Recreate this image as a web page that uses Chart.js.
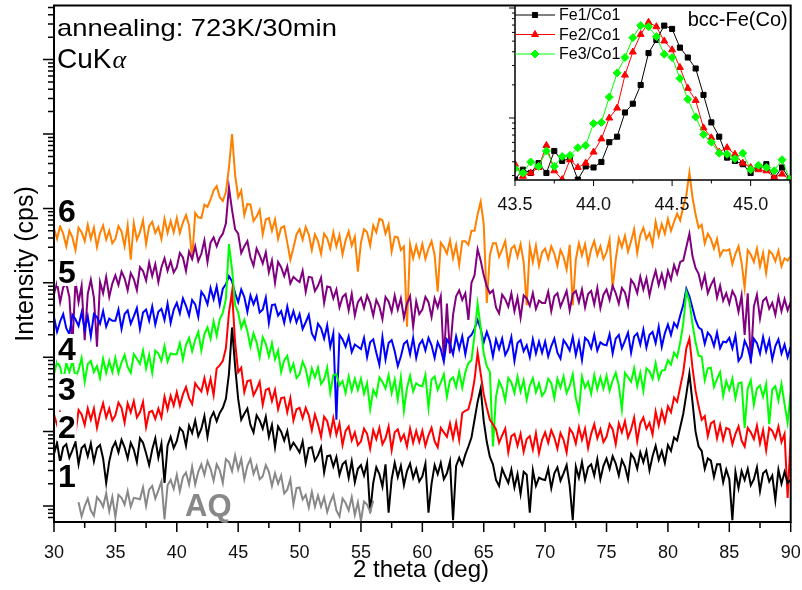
<!DOCTYPE html>
<html>
<head>
<meta charset="utf-8">
<script src="https://cdn.jsdelivr.net/npm/chart.js@4.4.1/dist/chart.umd.min.js"></script>
<style>
  html, body { margin: 0; padding: 0; background: #fff; }
  #wrap { position: relative; width: 802px; height: 590px; }
  #xrd { position: absolute; left: 0; top: 0; }
  #inset { position: absolute; left: 460px; top: 0; }
</style>
</head>
<body>
<div id="wrap">
  <canvas id="xrd" width="802" height="590"></canvas>
  <canvas id="inset" width="342" height="215"></canvas>
</div>
<script>
// scans: log10(counts), 2theta from scanStart in scanStep steps
const scanStart = 30;
const scanStep = 0.25;

const lgS6 = [
  4.73,4.59,4.76,4.66,4.49,4.70,4.61,4.44,4.74,4.68,4.56,4.78,4.59,4.74,4.48,4.67,4.77,4.58,4.70,4.53,
  4.59,4.76,4.69,4.49,4.77,4.31,4.80,4.58,4.68,4.84,4.52,4.76,4.82,4.67,4.75,4.59,4.86,4.67,4.83,4.68,
  4.87,4.67,4.81,4.91,4.77,4.31,4.94,4.88,4.87,5.05,5.02,5.12,5.24,5.30,5.15,5.10,5.22,5.55,6.00,5.45,
  5.15,5.24,4.91,5.06,5.05,4.83,4.89,4.98,4.65,4.85,4.87,4.70,4.85,4.59,4.74,4.76,4.54,4.31,4.47,4.65,
  4.72,4.58,4.75,4.65,4.44,4.65,4.56,4.39,4.66,4.60,4.46,4.68,4.49,4.64,4.38,4.57,4.69,4.50,4.62,4.15,
  4.54,4.72,4.68,4.50,4.77,4.68,4.86,4.84,4.66,4.78,4.42,4.62,4.61,4.44,4.49,3.41,4.52,4.33,4.50,4.35,
  4.52,4.32,4.46,4.56,4.37,3.88,4.54,4.48,4.39,4.57,4.33,4.51,4.24,4.56,4.56,4.51,4.70,4.70,4.92,5.09,
  4.79,3.73,4.37,4.53,4.53,4.35,4.45,4.56,4.24,4.46,4.50,4.35,4.52,4.28,3.70,4.49,4.28,4.50,4.23,4.41,
  4.46,4.32,4.49,4.39,4.23,4.44,4.35,4.18,4.51,3.70,4.31,4.53,4.37,4.52,4.26,4.45,4.56,4.37,4.49,4.32,
  4.41,4.58,3.93,4.31,4.60,4.48,4.63,4.42,4.56,4.72,4.40,4.64,4.74,4.59,4.67,4.51,4.82,4.63,4.79,4.66,
  4.86,4.70,4.82,4.93,4.84,5.02,5.18,5.48,5.15,4.92,4.74,4.78,4.53,4.66,4.59,4.46,4.59,4.36,4.44,4.43,
  4.45,4.25,4.39,4.49,4.27,3.93,4.44,4.38,4.28,4.46,4.22,4.40,4.13,4.43,4.39,4.29,4.43,4.22,4.33,4.30,
  4.36
];

const lgS5 = [
  3.85,4.00,3.74,3.94,3.99,3.81,3.16,4.02,3.74,3.96,3.23,3.85,4.04,3.80,3.14,4.01,3.86,4.08,3.81,3.99,
  4.10,3.97,4.15,4.06,3.90,4.13,4.05,3.90,4.21,4.16,4.03,4.27,4.09,4.25,4.01,4.21,4.33,4.16,4.29,4.14,
  4.21,4.40,4.34,4.16,4.42,4.32,4.49,4.29,4.39,4.57,4.28,4.54,4.61,4.49,4.60,4.66,4.80,5.28,4.98,4.72,
  4.66,4.40,4.49,4.56,4.34,4.23,4.46,4.37,4.26,4.41,4.14,4.30,4.00,4.28,4.21,4.09,4.22,3.99,4.08,4.04,
  4.01,4.16,3.88,4.08,4.07,3.89,3.96,4.07,3.73,3.95,3.94,3.79,3.91,3.67,3.81,3.85,3.63,3.85,3.56,3.74,
  3.80,3.66,3.83,3.73,3.56,3.77,3.68,3.51,3.81,3.75,3.61,3.83,3.64,3.79,3.53,3.72,3.82,3.41,3.75,3.58,
  3.64,3.81,3.74,3.54,3.79,3.67,3.82,2.96,3.72,3.05,3.57,3.82,3.90,3.77,3.86,3.50,4.00,4.10,4.45,4.30,
  4.10,3.95,3.86,3.90,3.67,3.59,3.84,3.78,3.68,3.86,3.62,3.80,3.53,3.83,3.79,3.69,3.86,3.65,3.76,3.73,
  3.73,3.88,3.62,3.82,3.86,3.68,3.78,3.89,3.63,3.85,3.89,3.74,3.91,3.67,3.85,3.89,3.71,3.93,3.66,3.84,
  3.91,3.77,3.96,3.86,3.72,3.93,3.87,3.70,4.04,3.98,3.86,4.08,3.91,4.06,3.83,4.02,4.16,3.97,4.12,3.95,
  4.16,4.04,4.24,4.12,4.28,4.30,4.48,4.66,4.36,4.20,4.12,3.94,4.10,3.86,3.97,4.05,3.80,3.96,3.76,3.86,
  3.72,3.89,3.81,3.61,3.83,3.30,3.86,2.92,3.68,3.84,3.52,3.76,3.80,3.65,3.73,3.57,3.81,3.62,3.78,3.63,
  3.74
];

const lgS4 = [
  3.54,3.34,3.48,3.58,3.39,3.31,3.57,3.51,3.42,3.60,3.37,3.55,3.28,3.58,3.54,3.45,3.62,3.41,3.52,3.49,
  3.49,3.64,3.38,3.58,3.63,3.45,3.55,3.66,3.38,3.60,3.64,3.49,3.68,3.44,3.61,3.65,3.50,3.72,3.46,3.64,
  3.73,3.59,3.79,3.69,3.56,3.77,3.71,3.54,3.88,3.82,3.71,3.93,3.78,3.95,3.71,3.92,3.98,4.09,4.02,3.86,
  3.74,3.91,3.81,3.61,3.83,3.71,3.82,3.60,3.64,3.80,3.46,3.70,3.71,3.56,3.62,3.46,3.68,3.49,3.62,3.47,
  3.58,3.38,3.47,3.57,3.32,3.24,3.45,3.39,3.25,3.43,3.14,3.32,2.16,3.30,3.24,3.14,3.28,3.07,3.17,3.14,
  3.11,3.26,3.00,3.20,3.24,3.06,2.90,3.27,2.97,3.19,3.23,3.08,2.88,3.01,3.18,3.22,3.04,3.26,2.99,3.17,
  3.23,3.09,3.26,3.16,2.99,3.20,3.11,2.94,3.24,3.18,3.04,3.28,3.11,3.28,3.04,3.26,3.30,3.38,3.50,3.38,
  3.20,3.34,3.22,3.01,3.24,3.11,3.25,3.03,3.11,3.27,2.95,3.19,3.23,3.08,3.16,3.00,3.24,3.05,3.21,3.06,
  3.21,3.01,3.15,3.25,3.06,2.98,3.23,3.17,3.09,3.27,3.03,3.21,2.96,3.26,3.22,3.12,3.30,3.09,3.20,3.17,
  3.16,3.31,3.05,3.25,3.30,3.12,3.22,3.33,3.06,3.28,3.32,3.17,3.37,3.13,3.30,3.34,3.19,3.41,3.14,3.32,
  3.44,3.30,3.46,3.40,3.56,3.70,3.92,3.82,3.66,3.50,3.40,3.37,3.18,3.33,3.28,3.15,3.33,3.12,3.21,3.20,
  3.26,3.12,3.29,2.95,3.01,3.22,3.13,2.96,3.25,3.19,3.05,3.27,3.08,3.23,2.97,3.15,3.24,3.05,3.17,3.00,
  3.14
];

const lgS3 = [
  2.77,2.94,2.87,2.67,2.92,2.80,2.95,2.73,2.83,2.99,2.67,2.91,2.95,2.80,2.88,2.72,2.98,2.79,2.95,2.80,
  2.99,2.79,2.93,3.03,2.87,2.79,3.04,2.98,2.91,3.09,2.85,3.03,2.79,3.09,3.05,2.95,3.15,2.94,3.05,3.04,
  3.04,3.19,2.97,3.17,3.26,3.08,3.23,3.34,3.09,3.31,3.40,3.25,3.48,3.29,3.51,3.60,3.78,4.52,4.18,3.70,
  3.60,3.39,3.50,3.35,3.14,3.32,3.20,3.00,3.27,3.18,3.01,3.19,2.97,3.09,2.80,2.96,3.02,2.81,2.91,2.72,
  2.77,2.94,2.84,2.64,2.85,2.73,2.86,2.64,2.70,2.86,2.52,2.76,2.77,2.62,2.68,2.52,2.74,2.55,2.71,2.56,
  2.71,2.51,2.65,2.30,2.56,2.48,2.73,2.67,2.58,2.76,2.52,2.70,2.43,2.73,2.28,2.59,2.75,2.54,2.65,2.62,
  2.61,2.76,2.32,2.70,2.74,2.56,2.66,2.77,2.47,2.69,2.73,2.60,2.80,2.59,2.80,2.92,2.96,3.30,3.72,3.40,
  3.05,2.88,2.80,1.80,2.47,2.68,2.59,2.42,2.72,2.66,2.52,2.74,2.54,2.69,2.43,2.62,2.72,2.53,2.65,2.48,
  2.54,2.71,2.65,2.45,2.71,2.59,2.74,2.52,2.61,2.77,2.45,2.28,2.74,2.59,2.67,2.51,2.76,2.57,2.73,2.58,
  2.75,2.55,2.69,2.79,2.62,2.30,2.79,2.73,2.67,2.85,2.61,2.79,2.55,2.85,2.81,2.71,2.92,2.71,2.82,2.83,
  2.96,2.90,3.06,3.00,3.20,3.45,3.88,3.75,3.45,3.20,3.02,3.01,2.69,2.85,2.86,2.60,2.71,2.80,2.48,2.68,
  2.56,2.71,2.45,2.65,2.66,2.05,2.58,2.69,2.36,2.58,2.62,2.47,2.64,2.10,2.57,2.61,2.42,2.64,2.37,2.12,
  2.52
];

const lgS2 = [
  2.23,2.09,2.26,2.16,2.01,2.22,2.14,1.97,2.29,2.23,2.09,2.31,2.16,2.31,2.05,2.24,2.38,2.19,2.31,2.15,
  2.22,2.39,2.32,2.12,2.38,2.26,2.41,2.19,2.26,2.40,2.06,2.26,2.28,2.17,2.31,2.19,2.47,2.30,2.48,2.35,
  2.53,2.35,2.50,2.60,2.45,2.37,2.65,2.59,2.54,2.72,2.53,2.71,2.49,2.85,2.89,2.95,3.12,3.60,3.88,3.20,
  2.80,2.86,2.53,2.68,2.69,2.49,2.57,2.67,2.36,2.56,2.58,2.41,2.56,2.30,2.45,2.46,2.26,2.45,2.15,2.30,
  2.32,2.18,2.32,2.22,2.02,2.23,2.10,1.93,2.20,2.14,1.96,2.18,1.96,2.11,1.82,2.01,2.07,1.88,1.99,1.82,
  1.87,2.04,1.97,1.77,2.02,1.90,2.05,1.83,1.91,2.07,1.75,1.99,2.03,1.88,1.96,1.80,2.04,1.85,2.01,1.86,
  2.01,1.81,1.95,2.05,1.87,1.79,2.05,1.99,1.93,2.11,1.91,2.12,1.89,2.25,2.28,2.30,2.46,2.70,3.06,2.78,
  2.50,2.32,2.16,2.10,2.03,1.85,1.95,2.04,1.72,1.94,1.97,1.81,1.97,1.73,1.90,1.94,1.76,1.98,1.71,1.89,
  1.99,1.85,2.02,1.92,1.77,1.98,1.89,1.72,2.04,1.98,1.84,2.06,1.89,2.04,1.78,1.97,2.10,1.91,2.03,1.86,
  1.93,2.10,2.03,1.83,2.11,1.99,2.14,1.92,2.03,2.19,1.87,2.11,2.19,2.04,2.12,1.96,2.27,2.08,2.28,2.13,
  2.34,2.26,2.46,2.40,2.60,2.80,3.12,3.25,2.86,2.55,2.34,2.16,2.21,1.94,2.11,2.14,1.91,2.09,1.89,2.05,
  2.03,1.83,1.97,2.07,1.88,1.80,2.05,1.99,1.90,2.08,1.84,2.02,1.75,2.05,2.01,1.91,2.07,1.86,1.97,1.11,
  1.93
];

const lgS1 = [
  1.70,1.85,1.59,1.79,1.83,1.65,1.75,1.86,1.56,1.78,1.82,1.67,1.84,1.60,1.78,1.82,1.64,1.31,1.60,1.78,
  1.86,1.72,1.89,1.79,1.64,1.85,1.76,1.59,1.91,1.85,1.71,1.55,1.76,1.91,1.65,1.84,1.31,1.81,1.93,1.78,
  1.87,2.05,2.00,1.81,2.08,1.98,2.15,1.94,2.04,2.21,1.93,2.18,2.26,2.14,2.25,2.32,2.44,2.78,3.40,2.88,
  2.44,2.16,2.24,2.31,2.09,1.99,2.22,2.15,2.04,2.20,1.93,2.09,1.79,2.07,2.00,1.88,2.01,1.77,1.85,1.79,
  1.72,1.87,1.58,1.78,1.79,1.61,1.68,1.79,1.45,1.67,1.68,1.53,1.66,1.42,1.56,1.60,1.38,1.60,1.32,1.50,
  1.55,1.41,1.58,0.91,1.31,1.52,1.43,1.26,1.56,0.91,1.36,1.58,1.39,1.54,1.28,1.47,1.57,1.38,1.50,1.33,
  1.40,1.57,0.91,1.30,1.55,1.43,1.58,1.36,1.44,1.60,0.81,1.54,1.65,1.55,1.69,1.80,1.92,2.16,2.40,2.58,
  2.14,1.86,1.66,1.56,1.35,1.27,1.50,1.40,1.31,1.49,1.25,1.43,1.16,1.46,1.42,0.91,1.48,1.27,1.38,1.36,
  1.35,1.50,1.24,1.44,1.52,1.34,1.44,1.55,1.27,0.81,1.53,1.38,1.59,1.35,1.52,1.56,1.41,1.63,1.36,1.54,
  1.64,1.50,1.67,1.57,1.41,1.62,1.53,1.36,1.70,1.64,1.50,1.72,1.59,1.74,1.48,1.67,1.81,1.62,1.74,1.58,
  1.82,1.74,1.92,1.88,2.06,2.24,2.50,2.78,2.40,2.00,1.80,1.74,1.50,1.64,1.61,1.39,1.56,1.56,1.32,1.49,
  1.36,0.81,1.46,1.24,1.47,1.35,1.50,1.28,1.36,1.52,1.20,1.44,1.48,1.33,1.41,1.08,1.49,1.30,1.46,1.31,
  1.35
];

// as-quenched ribbon, recorded from 32 deg only
const aqStart = 32;
const lgAQ = [
  1.05,0.86,1.00,1.10,0.94,0.87,1.12,1.07,0.99,1.17,0.93,1.12,0.85,1.15,1.11,1.02,1.20,0.99,1.11,1.10,
  1.09,1.25,1.00,1.22,1.27,1.10,1.21,1.33,0.82,1.28,1.35,1.23,1.42,1.20,1.39,1.45,1.29,1.53,1.29,1.46,
  1.56,1.42,1.60,1.50,1.34,1.56,1.48,1.31,1.63,1.59,1.47,1.68,1.49,1.63,1.36,1.54,1.63,1.43,1.54,1.36,
  1.40,1.55,1.46,1.27,1.44,1.30,1.41,1.17,1.22,1.36,1.02,1.24,1.25,1.09,1.15,0.98,1.19,0.99,1.14,0.99,
  1.12,0.92,1.05,1.15,0.94,0.86,1.10,1.04,0.94,1.12,0.88,1.05,0.80,1.06,1.02,0.92,1.07
];

// (110) peak detail, 43.50..45.25 deg
const insetStart = 43.5;
const insetStep = 0.05;
const lgFe1Co1 = [2.44,2.53,2.50,2.59,2.50,2.70,2.61,2.63,2.44,2.56,2.55,2.60,2.78,2.83,3.05,3.13,3.30,3.59,
  3.71,3.84,3.81,3.64,3.55,3.45,3.21,2.96,2.83,2.64,2.61,2.58,2.50,2.55,2.58,2.45,2.55,2.44];
const lgFe2Co1 = [2.58,2.47,2.50,2.55,2.75,2.52,2.44,2.62,2.55,2.59,2.69,2.81,3.00,3.09,3.39,3.60,3.76,3.87,
  3.83,3.70,3.62,3.46,3.27,3.16,2.91,2.82,2.69,2.73,2.67,2.59,2.55,2.53,2.52,2.46,2.49,2.44];
const lgFe3Co1 = [2.54,2.50,2.60,2.56,2.70,2.56,2.65,2.66,2.73,2.75,2.95,2.96,3.19,3.41,3.55,3.73,3.84,3.83,
  3.74,3.58,3.55,3.36,3.17,3.01,2.85,2.78,2.68,2.67,2.63,2.68,2.53,2.57,2.55,2.52,2.62,2.44];

const curveNames = ['AQ', '1', '2', '3', '4', '5', '6'];
const curveColors = ['#888888', '#000000', '#ff0000', '#00ff00', '#0000ff', '#800080', '#ff8000'];
const curveLg = [lgAQ, lgS1, lgS2, lgS3, lgS4, lgS5, lgS6];
const curveStart = [aqStart, scanStart, scanStart, scanStart, scanStart, scanStart, scanStart];

const yMin = 6.1, yMax = 5.33e7;
const insetYMin = 273, insetYMax = 10540;

const SANS = '"Liberation Sans", Arial, sans-serif';

function toPoints(lg, start, step) {
  return lg.map((v, i) => ({ x: +(start + i * step).toFixed(3), y: Math.pow(10, v) }));
}

// keep the plot box fixed: no extra room for the end tick labels
function fixXBox(height) {
  return s => {
    s.height = height;
    s.paddingLeft = 0;
    s.paddingRight = 0;
  };
}

// curve numbers next to the left axis
const curveTags = [
  { text: '6', x: 57, y: 222 },
  { text: '5', x: 57, y: 283 },
  { text: '4', x: 57, y: 360 },
  { text: '3', x: 57, y: 400 },
  { text: '2', x: 57, y: 438 },
  { text: '1', x: 57, y: 487 }
];

const xrdFrame = {
  id: 'xrdFrame',
  afterDraw(chart) {
    const { ctx, chartArea: a, scales: { x, y } } = chart;
    ctx.save();

    // tick marks, drawn outwards
    ctx.strokeStyle = '#000';
    ctx.lineWidth = 1.5;
    ctx.beginPath();
    x.ticks.forEach(t => {
      const px = x.getPixelForValue(t.value);
      const len = t.value % 5 === 0 ? 10 : 6;
      ctx.moveTo(px, a.bottom);
      ctx.lineTo(px, a.bottom + len);
    });
    for (let e = 0; e <= 8; e++) {
      for (let k = 1; k <= 9; k++) {
        const v = k * Math.pow(10, e);
        if (v < y.min || v > y.max) continue;
        const py = y.getPixelForValue(v);
        const len = k === 1 ? 11 : 6;
        ctx.moveTo(a.left - len, py);
        ctx.lineTo(a.left, py);
      }
    }
    ctx.stroke();

    ctx.lineWidth = 2;
    ctx.strokeRect(a.left, a.top, a.right - a.left, a.bottom - a.top);

    // curve numbers
    ctx.font = 'bold 32px ' + SANS;
    ctx.textBaseline = 'alphabetic';
    curveTags.forEach(t => {
      const w = ctx.measureText(t.text).width;
      ctx.fillStyle = '#fff';
      ctx.fillRect(t.x, t.y - 26, w + 2, 29);
      ctx.fillStyle = '#000';
      ctx.fillText(t.text, t.x + 1, t.y);
    });
    ctx.font = 'bold 31px ' + SANS;
    ctx.fillStyle = '#888888';
    ctx.fillText('AQ', 185, 516);

    // heading
    ctx.fillStyle = '#000';
    ctx.save();
    ctx.translate(57, 36);
    ctx.scale(1.14, 1);
    ctx.font = '24px ' + SANS;
    ctx.fillText('annealing: 723K/30min', 0, 0);
    ctx.restore();
    ctx.font = '28px ' + SANS;
    ctx.fillText('CuK', 57, 68);
    const cw = ctx.measureText('CuK').width;
    ctx.font = 'italic 26px "Liberation Serif", serif';
    ctx.fillText('\u03b1', 57 + cw + 1, 68);

    // axis titles
    ctx.font = '24px ' + SANS;
    ctx.textAlign = 'center';
    ctx.fillText('2 theta (deg)', 421, 577);
    ctx.save();
    ctx.translate(26, 264);
    ctx.rotate(-Math.PI / 2);
    ctx.font = '25px ' + SANS;
    ctx.textBaseline = 'middle';
    ctx.fillText('Intensity (cps)', 0, 0);
    ctx.restore();

    ctx.restore();
  }
};

new Chart(document.getElementById('xrd'), {
  type: 'line',
  data: {
    datasets: curveLg.map((lg, i) => ({
      label: curveNames[i],
      data: toPoints(lg, curveStart[i], scanStep),
      borderColor: curveColors[i],
      borderWidth: 2,
      pointRadius: 0,
      tension: 0
    }))
  },
  options: {
    responsive: false,
    animation: false,
    devicePixelRatio: 1,
    layout: { padding: { left: 0, top: 5.5, right: 11.3, bottom: 0 } },
    plugins: { legend: { display: false }, tooltip: { enabled: false } },
    scales: {
      x: {
        type: 'linear', min: 30, max: 90,
        afterFit: fixXBox(68),
        border: { display: false },
        grid: { display: false },
        ticks: {
          stepSize: 2.5, autoSkip: false, maxRotation: 0, includeBounds: false,
          padding: 12, color: '#111',
          font: { family: SANS, size: 18 },
          callback: v => (v % 5 === 0 ? String(v) : '')
        }
      },
      y: {
        type: 'logarithmic', min: yMin, max: yMax,
        afterFit: s => { s.width = 54; },
        border: { display: false },
        grid: { display: false },
        ticks: { display: false }
      }
    }
  },
  plugins: [xrdFrame]
});

// inset: (110) reflection of the three alloys
const insetSeries = [
  { label: 'Fe3/Co1', lg: lgFe3Co1, color: '#00ff00', style: 'rectRot', r: 4 },
  { label: 'Fe2/Co1', lg: lgFe2Co1, color: '#ff0000', style: 'triangle', r: 4 },
  { label: 'Fe1/Co1', lg: lgFe1Co1, color: '#000000', style: 'rect', r: 3.6 }
];

const insetFrame = {
  id: 'insetFrame',
  afterDraw(chart) {
    const { ctx, chartArea: a, scales: { x, y } } = chart;
    ctx.save();
    ctx.strokeStyle = '#000';
    ctx.lineWidth = 1;
    ctx.beginPath();
    x.ticks.forEach(t => {
      const px = x.getPixelForValue(t.value);
      const major = Math.abs(t.value * 2 - Math.round(t.value * 2)) < 1e-6;
      ctx.moveTo(px, a.bottom);
      ctx.lineTo(px, a.bottom + (major ? 6 : 3.5));
    });
    for (let e = 2; e <= 4; e++) {
      for (let k = 1; k <= 9; k++) {
        const v = k * Math.pow(10, e);
        if (v < y.min || v > y.max) continue;
        const py = y.getPixelForValue(v);
        ctx.moveTo(a.left - (k === 1 ? 6 : 3), py);
        ctx.lineTo(a.left, py);
      }
    }
    ctx.stroke();

    ctx.lineWidth = 1.5;
    ctx.beginPath();
    ctx.moveTo(a.left, a.top);
    ctx.lineTo(a.left, a.bottom);
    ctx.lineTo(a.right, a.bottom);
    ctx.stroke();

    // legend, listed top to bottom as Fe1, Fe2, Fe3
    ctx.font = '16px ' + SANS;
    ctx.textBaseline = 'middle';
    insetSeries.slice().reverse().forEach((s, i) => {
      const ly = 15 + i * 19.5;
      ctx.strokeStyle = s.color;
      ctx.fillStyle = s.color;
      ctx.lineWidth = 1;
      ctx.beginPath();
      ctx.moveTo(a.left, ly);
      ctx.lineTo(a.left + 40, ly);
      ctx.stroke();
      Chart.helpers.drawPoint(ctx, { pointStyle: s.style, radius: s.r, rotation: 0, borderWidth: 1 }, a.left + 20, ly);
      ctx.fillStyle = '#000';
      ctx.fillText(s.label, a.left + 44, ly + 1);
    });

    ctx.font = '20px ' + SANS;
    ctx.textAlign = 'right';
    ctx.fillText('bcc-Fe(Co)', a.right - 3, 20);
    ctx.restore();
  }
};

new Chart(document.getElementById('inset'), {
  type: 'line',
  data: {
    datasets: insetSeries.map(s => ({
      label: s.label,
      data: toPoints(s.lg, insetStart, insetStep),
      borderColor: s.color,
      backgroundColor: s.color,
      borderWidth: 1,
      pointStyle: s.style,
      pointRadius: s.r,
      pointBorderWidth: 1,
      tension: 0
    }))
  },
  options: {
    responsive: false,
    animation: false,
    devicePixelRatio: 1,
    layout: { padding: { left: 0, top: 5.5, right: 11.3, bottom: 0 } },
    plugins: { legend: { display: false }, tooltip: { enabled: false } },
    scales: {
      x: {
        type: 'linear', min: 43.5, max: 45.255,
        afterFit: fixXBox(35),
        border: { display: false },
        grid: { display: false },
        ticks: {
          stepSize: 0.25, autoSkip: false, maxRotation: 0, includeBounds: false,
          padding: 6, color: '#111',
          font: { family: SANS, size: 18 },
          callback: v => (Math.abs(v * 2 - Math.round(v * 2)) < 1e-6 ? v.toFixed(1) : '')
        }
      },
      y: {
        type: 'logarithmic', min: insetYMin, max: insetYMax,
        afterFit: s => { s.width = 55; },
        border: { display: false },
        grid: { display: false },
        ticks: { display: false }
      }
    }
  },
  plugins: [insetFrame]
});
</script>
</body>
</html>
